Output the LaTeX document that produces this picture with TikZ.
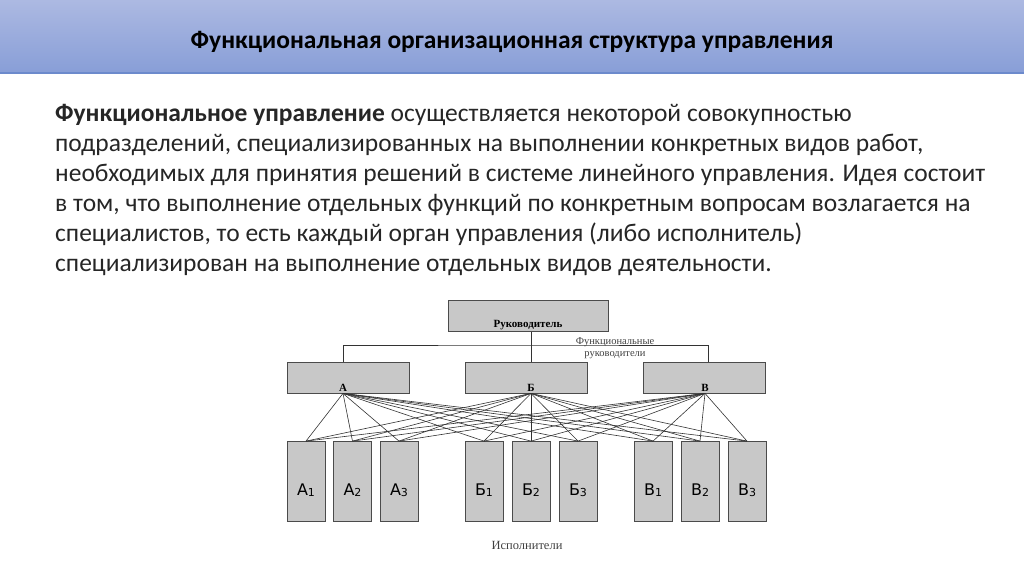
\documentclass[tikz,border=0pt]{standalone}
\usepackage{fontspec}
\setmainfont{Carlito}
\newfontfamily\schemefont{Liberation Serif}
\newfontfamily\boxfont{DejaVu Sans}
\definecolor{headtop}{RGB}{172,185,226}
\definecolor{headbot}{RGB}{136,158,215}
\definecolor{headline}{RGB}{108,138,204}
\definecolor{textgray}{RGB}{38,38,38}
\definecolor{boxgray}{RGB}{200,200,200}
\definecolor{boxline}{RGB}{75,75,75}
\newcommand{\idx}[1]{\raisebox{-0.5pt}{\fontsize{11}{11}\selectfont #1}}

\begin{document}
\begin{tikzpicture}[x=1pt, y=-1pt,
		chief/.style={draw=boxline, fill=boxgray, line width=0.8pt, minimum width=122pt, minimum height=31pt, inner sep=0pt},
		worker/.style={draw=boxline, fill=boxgray, line width=0.8pt, minimum width=38pt, minimum height=80pt, inner sep=0pt},
		chieflbl/.style={anchor=south, inner sep=2pt, font=\schemefont\fontsize{11}{11}\selectfont\bfseries},
		workerlbl/.style={yshift=-8pt, inner sep=0pt, text height=12pt, text depth=0pt, font=\boxfont\fontsize{16}{16}\selectfont},
		wire/.style={draw=black!80, line width=0.6pt},
		font=\fontsize{25.5}{30}\selectfont]
		%Bildbereich
		\useasboundingbox (0,0) rectangle (1024,574);
		%Kopfzeile
		\shade[top color=headtop, bottom color=headbot] (0,0) rectangle (1024,73);
		\draw[headline, line width=1.5pt] (0,73) -- (1024,73);
		\node (title) at (512,42) {\fontsize{25.5}{28}\selectfont\bfseries Функциональная организационная структура управления};
		%Text
		\node[anchor=north west, align=left, inner sep=0pt, text=textgray] (txt) at (55,104)
			{\textbf{Функциональное управление} осуществляется некоторой совокупностью\\
			подразделений, специализированных на выполнении конкретных видов работ,\\
			необходимых для принятия решений в системе линейного управления. Идея состоит\\
			в том, что выполнение отдельных функций по конкретным вопросам возлагается на\\
			специалистов, то есть каждый орган управления (либо исполнитель)\\
			специализирован на выполнение отдельных видов деятельности.};
		%Leitung
		\node[chief, minimum width=160pt] (boss) at (528,316) {};
		\node[chieflbl, font=\schemefont\fontsize{11}{11}\selectfont\bfseries] at (boss.south) {Руководитель};
		\node[chief] (fA) at (348,377.5) {};
		\node[chief] (fB) at (526,377.5) {};
		\node[chief] (fV) at (704.5,377.5) {};
		\coordinate (pA) at ([xshift=-5pt]fA.south);
		\coordinate (pB) at ([xshift=5pt]fB.south);
		\coordinate (pV) at ([xshift=0.5pt]fV.south);
		\node[chieflbl] at (pA) {А};
		\node[chieflbl] at (pB) {Б};
		\node[chieflbl] at (pV) {В};
		\coordinate (bus) at (531,345);
		\draw[wire] (boss.south -| bus) -- (fB.north -| bus);
		\draw[wire] (fA.north -| pA) |- (bus) -| ([xshift=4pt]fV.north);
		\node[align=center, inner sep=0pt, text=black!75, font=\schemefont\fontsize{10.5}{12}\selectfont] (flbl) at (615,348)
			{Функциональные\\руководители};
		%Ausfuehrende
		\foreach \n/\x/\t in {iA1/306/А\idx{1}, iA2/352.5/А\idx{2}, iA3/399/А\idx{3},
				iB1/484/Б\idx{1}, iB2/531/Б\idx{2}, iB3/578/Б\idx{3},
				iV1/653/В\idx{1}, iV2/700/В\idx{2}, iV3/747/В\idx{3}}
			\node[worker, label={[workerlbl]center:\t}] (\n) at (\x,481.5) {};
		%Verbindungen
		\foreach \f in {pA,pB,pV}
			\foreach \w in {iA1,iA2,iA3,iB1,iB2,iB3,iV1,iV2,iV3}
				\draw[wire] (\f) -- (\w.north);
		\node[text=black!75, font=\schemefont\fontsize{12.5}{12.5}\selectfont] (exec) at (527,545) {Исполнители};
	\end{tikzpicture}
\end{document}
